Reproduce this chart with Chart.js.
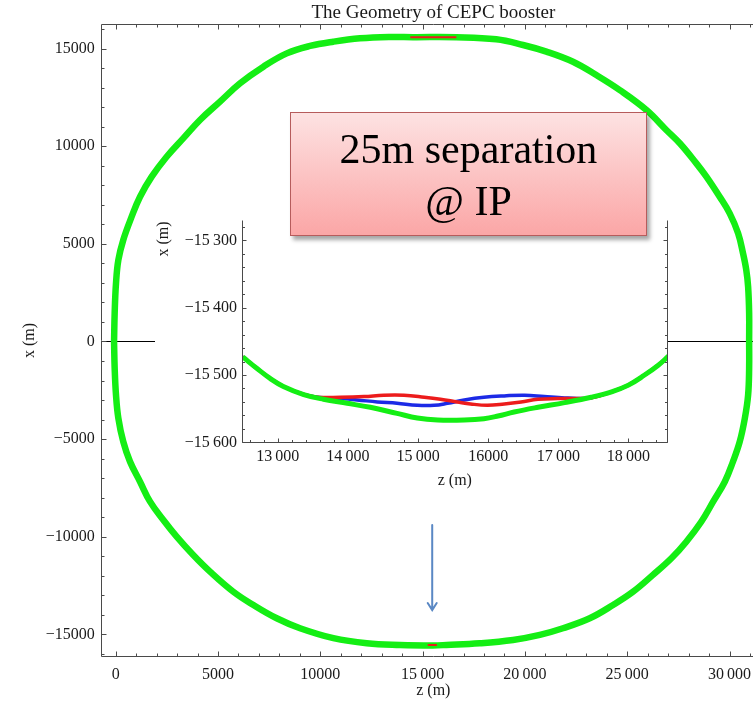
<!DOCTYPE html>
<html>
<head>
<meta charset="utf-8">
<title>The Geometry of CEPC booster</title>
<script src="https://cdn.jsdelivr.net/npm/chart.js@4.4.0/dist/chart.umd.min.js"></script>
<style>
  html, body { margin: 0; padding: 0; background: #fff; overflow: hidden; }
  #wrap { position: relative; width: 753px; height: 705px; overflow: hidden; }
  #main-chart { position: absolute; left: 0; top: 0; }
  #inset-chart { position: absolute; left: 155px; top: 205px; }
  .callout {
    position: absolute; left: 290px; top: 112px; width: 357px; height: 124px;
    box-sizing: border-box; border: 1px solid #b65c5c;
    background: linear-gradient(#fde2e2, #fba6a6);
    box-shadow: 3px 4px 4px rgba(0, 0, 0, 0.35);
    font-family: "Liberation Serif", "Times New Roman", serif;
    font-size: 42px; line-height: 52px; text-align: center; color: #000;
    padding-top: 10px;
  }
</style>
</head>
<body>
<div id="wrap">
  <canvas id="main-chart" width="770" height="705"></canvas>
  <canvas id="inset-chart" width="513" height="287"></canvas>
  <div class="callout">25m separation<br>@ IP</div>
</div>
<script>
const SERIF = '"Liberation Serif", "Times New Roman", serif';
const INK = "#1a1a1a";
const FRAME = "#4a4a4a";
const GREEN = "#14ee14";
const RED = "#ec1c1c";
const BLUE = "#1c2ae6";

// main plot: axis ticks
const xTickValues = [0, 5000, 10000, 15000, 20000, 25000, 30000];
const xTickLabels = ["0", "5000", "10000", "15\u2009000", "20\u2009000", "25\u2009000", "30\u2009000"];
const yTickValues = [-15000, -10000, -5000, 0, 5000, 10000, 15000];
const yTickLabels = ["\u221215000", "\u221210000", "\u22125000", "0", "5000", "10000", "15000"];

// booster ring (z, x in metres), clockwise from the left straight
const ringZ = [-80, -50, 15, 130, 370, 780, 1190, 1760, 2490, 3300, 4120, 5100, 6080, 7220, 8360,
  9500, 10640, 11940, 13410, 14530, 16650, 18600, 19910, 21050, 22350, 23490, 24640, 25940, 26910,
  27570, 28380, 28870, 29520, 30010, 30420, 30660, 30820, 30910, 30960, 30960, 30960, 30910, 30750,
  30500, 30170, 29770, 29200, 28620, 27890, 27160, 26260, 25290, 24310, 23170, 21860, 20730, 19420,
  17790, 16160, 15500, 13900, 12270, 10640, 9010, 7870, 6730, 5750, 4610, 3790, 2980, 2330, 1680,
  1190, 700, 370, 130, 15, -50, -80];
const ringX = [0, 1450, 2980, 4170, 5200, 6390, 7410, 8440, 9460, 10400, 11340, 12280, 13220, 14070, 14750,
  15130, 15350, 15520, 15590, 15580, 15575, 15470, 15180, 14840, 14320, 13640, 12870, 11850, 10830,
  10150, 9120, 8440, 7410, 6560, 5540, 4520, 3660, 2800, 1440, 0, -1370, -2740, -3930,
  -5130, -6150, -7180, -8200, -9230, -10250, -11100, -11950, -12810, -13490, -14170, -14680, -15020, -15280,
  -15450, -15536, -15560, -15536, -15450, -15190, -14680, -14170, -13490, -12810, -11780, -10930, -9990, -9140, -8200,
  -7180, -6150, -5130, -3930, -2740, -1370, 0];

// separated beams visible at the two IPs
const ipTopZ = [14400, 15000, 15600, 16200, 16650];
const ipTopX = [15578, 15580, 15580, 15578, 15574];
const ipBottomZ = [15250, 15480, 15700];
const ipBottomX = [-15540, -15542, -15540];

// arrow pointing at the lower IP
const arrowZ = 15470;
const arrowFromX = -9400;
const arrowToX = -13750;

// inset (zoom on the lower IP)
const insetXTickValues = [13000, 14000, 15000, 16000, 17000, 18000];
const insetXTickLabels = ["13\u2009000", "14\u2009000", "15\u2009000", "16000", "17\u2009000", "18\u2009000"];
const insetYTickValues = [-15600, -15500, -15400, -15300];
const insetYTickLabels = ["\u221215\u2009600", "\u221215\u2009500", "\u221215\u2009400", "\u221215\u2009300"];

const insetGreenZ = [12500, 12700, 12890, 13080, 13370, 13650, 13990, 14320, 14700, 14990, 15280,
  15660, 15940, 16140, 16370, 16710, 17090, 17470, 17760, 18000, 18230, 18430, 18570];
const insetGreenX = [-15473, -15490, -15505, -15517, -15529, -15536, -15542, -15548, -15557, -15564, -15567,
  -15567, -15565, -15561, -15555, -15548, -15541, -15533, -15525, -15515, -15500, -15485, -15472];

const insetRedZ = [12500, 12700, 12890, 13080, 13370, 13560, 13890, 14230, 14510, 14800, 15090, 15320,
  15560, 15750, 15990, 16230, 16470, 16710, 16990, 17280, 17470, 17760, 18000, 18230, 18430, 18570];
const insetRedX = [-15473, -15490, -15505, -15517, -15529, -15533, -15533, -15532, -15530, -15530, -15533, -15536,
  -15540, -15543, -15545, -15543, -15540, -15536, -15535, -15535, -15534, -15525, -15515, -15500, -15485, -15472];

const insetBlueZ = [12500, 12700, 12890, 13080, 13370, 13560, 13890, 14130, 14420, 14700, 14990, 15230,
  15420, 15660, 15940, 16230, 16520, 16800, 17090, 17370, 17470, 17760, 18000, 18230, 18430, 18570];
const insetBlueX = [-15473, -15490, -15505, -15517, -15529, -15533, -15535, -15537, -15540, -15542, -15545, -15545,
  -15542, -15537, -15533, -15531, -15530, -15532, -15534, -15535, -15534, -15525, -15515, -15500, -15485, -15472];

function toPoints(zs, xs) {
  return zs.map((z, i) => ({ x: z, y: xs[i] }));
}

// frame with inward major/minor ticks, the way the original plotting package draws it
const frameTicks = {
  id: "frameTicks",
  beforeDraw(chart, args, opts) {
    if (!opts.background) {
      return;
    }
    const { ctx, width, height } = chart;
    ctx.save();
    ctx.fillStyle = opts.background;
    ctx.fillRect(0, 0, width, height);
    ctx.restore();
  },
  beforeDatasetsDraw(chart, args, opts) {
    if (!opts.zeroLine) {
      return;
    }
    const { ctx, chartArea: a, scales } = chart;
    const py = Math.round(scales.y.getPixelForValue(0)) + 0.5;
    ctx.save();
    ctx.strokeStyle = "#000";
    ctx.lineWidth = 1;
    ctx.beginPath();
    ctx.moveTo(a.left, py);
    ctx.lineTo(a.right, py);
    ctx.stroke();
    ctx.restore();
  },
  afterDatasetsDraw(chart, args, opts) {
    const { ctx, chartArea: a, scales } = chart;
    const sides = opts.sides;
    const left = Math.floor(a.left) + 0.5;
    const right = Math.floor(a.right) + 0.5;
    const top = Math.floor(a.top) + 0.5;
    const bottom = Math.floor(a.bottom) + 0.5;
    ctx.save();
    ctx.strokeStyle = FRAME;
    ctx.lineWidth = 1;
    ctx.beginPath();
    if (sides.includes("top")) { ctx.moveTo(left, top); ctx.lineTo(right, top); }
    if (sides.includes("bottom")) { ctx.moveTo(left, bottom); ctx.lineTo(right, bottom); }
    if (sides.includes("left")) { ctx.moveTo(left, top); ctx.lineTo(left, bottom); }
    if (sides.includes("right")) { ctx.moveTo(right, top); ctx.lineTo(right, bottom); }

    const xs = scales.x;
    const ys = scales.y;
    const tickRun = (scale, step, cb) => {
      const start = Math.ceil(scale.min / step) * step;
      for (let v = start; v <= scale.max; v += step) {
        cb(v);
      }
    };
    const xMark = (len) => (v) => {
      const px = Math.round(xs.getPixelForValue(v)) + 0.5;
      if (sides.includes("bottom")) { ctx.moveTo(px, bottom); ctx.lineTo(px, bottom - len); }
      if (sides.includes("top")) { ctx.moveTo(px, top); ctx.lineTo(px, top + len); }
    };
    const yMark = (len) => (v) => {
      const py = Math.round(ys.getPixelForValue(v)) + 0.5;
      if (sides.includes("left")) { ctx.moveTo(left, py); ctx.lineTo(left + len, py); }
      if (sides.includes("right")) { ctx.moveTo(right, py); ctx.lineTo(right - len, py); }
    };
    tickRun(xs, opts.xMinor, xMark(opts.minorLength));
    tickRun(xs, opts.xMajor, xMark(opts.majorLength));
    tickRun(ys, opts.yMinor, yMark(opts.minorLength));
    tickRun(ys, opts.yMajor, yMark(opts.majorLength));
    ctx.stroke();

    if (opts.arrow) {
      const ax = xs.getPixelForValue(opts.arrow.z);
      const y0 = ys.getPixelForValue(opts.arrow.from);
      const y1 = ys.getPixelForValue(opts.arrow.to);
      ctx.strokeStyle = "#5a88c4";
      ctx.lineWidth = 2;
      ctx.lineCap = "round";
      ctx.beginPath();
      ctx.moveTo(ax, y0);
      ctx.lineTo(ax, y1);
      ctx.moveTo(ax - 4.5, y1 - 7);
      ctx.lineTo(ax, y1);
      ctx.lineTo(ax + 4.5, y1 - 7);
      ctx.stroke();
    }

    if (opts.yLabel) {
      ctx.fillStyle = INK;
      ctx.font = `16px ${SERIF}`;
      ctx.textAlign = "center";
      ctx.textBaseline = "middle";
      ctx.translate(opts.yLabel.px, opts.yLabel.py);
      ctx.rotate(-Math.PI / 2);
      ctx.fillText(opts.yLabel.text, 0, 0);
    }
    ctx.restore();
  },
};

const mainChart = new Chart(document.getElementById("main-chart"), {
  type: "scatter",
  data: {
    datasets: [
      {
        label: "IP top",
        data: toPoints(ipTopZ, ipTopX),
        showLine: true,
        borderColor: RED,
        borderWidth: 2,
        pointRadius: 0,
        order: 1,
      },
      {
        label: "IP bottom",
        data: toPoints(ipBottomZ, ipBottomX),
        showLine: true,
        borderColor: RED,
        borderWidth: 2,
        pointRadius: 0,
        order: 2,
      },
      {
        label: "Booster",
        data: toPoints(ringZ, ringX),
        showLine: true,
        borderColor: GREEN,
        borderWidth: 6.5,
        borderJoinStyle: "round",
        pointRadius: 0,
        tension: 0.4,
        order: 5,
      },
    ],
  },
  options: {
    responsive: false,
    animation: false,
    events: [],
    layout: { padding: { left: 0, right: 5, top: 0, bottom: 0 } },
    plugins: {
      legend: { display: false },
      tooltip: { enabled: false },
      title: {
        display: true,
        text: "The Geometry of CEPC booster",
        color: INK,
        fullSize: false,
        font: { family: SERIF, size: 19, weight: "normal", lineHeight: 1.2 },
        padding: { top: 1.5, bottom: 0 },
      },
      frameTicks: {
        sides: ["top", "bottom", "left", "right"],
        xMajor: 5000, xMinor: 1000,
        yMajor: 5000, yMinor: 1000,
        majorLength: 5, minorLength: 3,
        zeroLine: true,
        arrow: { z: arrowZ, from: arrowFromX, to: arrowToX },
      },
    },
    scales: {
      x: {
        type: "linear",
        min: -684,
        max: 31735,
        grid: { display: false, drawTicks: false },
        border: { display: false },
        afterBuildTicks: (scale) => {
          scale.ticks = xTickValues.map((v) => ({ value: v }));
        },
        afterFit: (scale) => {
          scale.height = 48.3;
        },
        ticks: {
          autoSkip: false,
          maxRotation: 0,
          padding: 8,
          color: INK,
          font: { family: SERIF, size: 16 },
          callback: (value, index) => xTickLabels[index],
        },
        title: {
          display: true,
          text: "z (m)",
          color: INK,
          font: { family: SERIF, size: 16 },
          padding: { top: 0, bottom: 5 },
        },
      },
      y: {
        type: "linear",
        min: -16137,
        max: 16239,
        grid: { display: false, drawTicks: false },
        border: { display: false },
        afterBuildTicks: (scale) => {
          scale.ticks = yTickValues.map((v) => ({ value: v }));
        },
        afterFit: (scale) => {
          scale.width = 101.7;
        },
        ticks: {
          autoSkip: false,
          padding: 7,
          color: INK,
          font: { family: SERIF, size: 16 },
          callback: (value, index) => yTickLabels[index],
        },
        title: {
          display: true,
          text: "x (m)",
          color: INK,
          font: { family: SERIF, size: 16 },
          padding: { top: 20, bottom: 0 },
        },
      },
    },
  },
  plugins: [frameTicks],
});

const insetChart = new Chart(document.getElementById("inset-chart"), {
  type: "scatter",
  data: {
    datasets: [
      {
        label: "Booster",
        data: toPoints(insetGreenZ, insetGreenX),
        showLine: true,
        borderColor: GREEN,
        borderWidth: 5,
        pointRadius: 0,
        tension: 0.4,
        order: 1,
      },
      {
        label: "Beam 1",
        data: toPoints(insetRedZ, insetRedX),
        showLine: true,
        borderColor: RED,
        borderWidth: 3.5,
        pointRadius: 0,
        tension: 0.4,
        order: 2,
      },
      {
        label: "Beam 2",
        data: toPoints(insetBlueZ, insetBlueX),
        showLine: true,
        borderColor: BLUE,
        borderWidth: 3.5,
        pointRadius: 0,
        tension: 0.4,
        order: 3,
      },
    ],
  },
  options: {
    responsive: false,
    animation: false,
    events: [],
    layout: { padding: { left: 0, right: 1, top: 14.3, bottom: 0 } },
    plugins: {
      legend: { display: false },
      tooltip: { enabled: false },
      frameTicks: {
        background: "#ffffff",
        sides: ["bottom", "left", "right"],
        xMajor: 1000, xMinor: 200,
        yMajor: 100, yMinor: 20,
        majorLength: 4, minorLength: 2.5,
        yLabel: { text: "x (m)", px: 8.5, py: 34 },
      },
    },
    scales: {
      x: {
        type: "linear",
        min: 12500,
        max: 18550,
        grid: { display: false, drawTicks: false },
        border: { display: false },
        afterBuildTicks: (scale) => {
          scale.ticks = insetXTickValues.map((v) => ({ value: v }));
        },
        afterFit: (scale) => {
          scale.height = 49.7;
        },
        ticks: {
          autoSkip: false,
          maxRotation: 0,
          padding: 4.7,
          color: INK,
          font: { family: SERIF, size: 16 },
          callback: (value, index) => insetXTickLabels[index],
        },
        title: {
          display: true,
          text: "z (m)",
          color: INK,
          font: { family: SERIF, size: 16 },
          padding: { top: 0, bottom: 1.7 },
        },
      },
      y: {
        type: "linear",
        min: -15600,
        max: -15270,
        grid: { display: false, drawTicks: false },
        border: { display: false },
        afterBuildTicks: (scale) => {
          scale.ticks = insetYTickValues.map((v) => ({ value: v }));
        },
        afterFit: (scale) => {
          scale.width = 87.7;
        },
        ticks: {
          autoSkip: false,
          padding: 5.7,
          color: INK,
          font: { family: SERIF, size: 16 },
          callback: (value, index) => insetYTickLabels[index],
        },
      },
    },
  },
  plugins: [frameTicks],
});
</script>
</body>
</html>
